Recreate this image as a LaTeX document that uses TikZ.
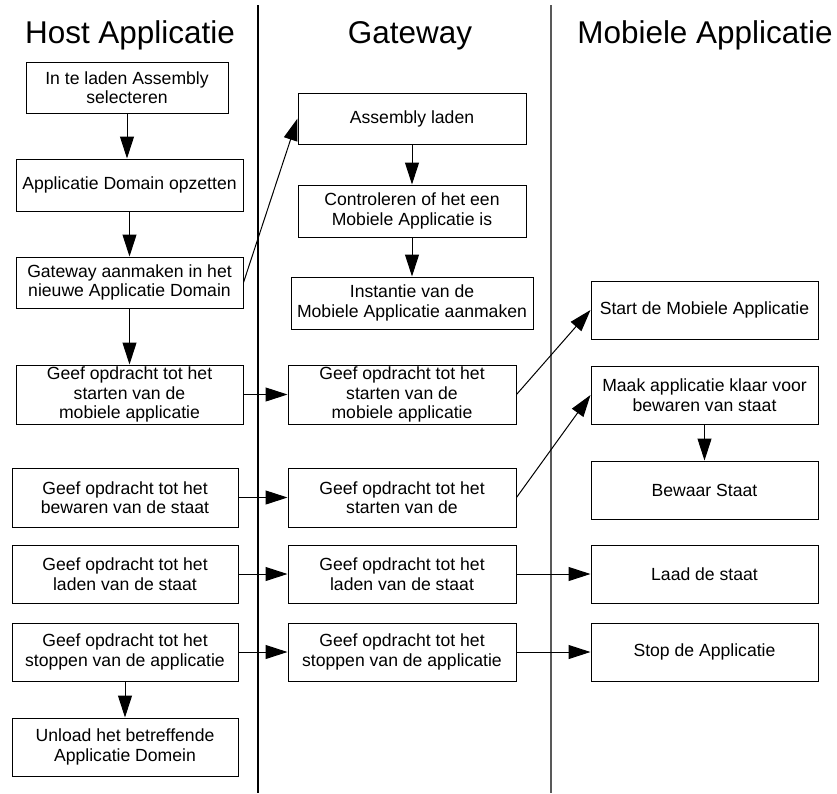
\documentclass[tikz,border=0pt]{standalone}
\usepackage{fontspec}
\setmainfont{Liberation Sans}
\usetikzlibrary{arrows.meta}

\tikzset{
  box/.style={draw=black, line width=0.75pt, inner sep=0pt, align=center,
    font=\fontsize{13.2}{14.6}\selectfont},
  sz/.style 2 args={minimum width=#1*0.75pt, minimum height=#2*0.75pt},
  flow/.style={line width=0.75pt, -{Triangle[length=16.5pt,width=10.5pt]}},
  lane/.style={line width=0.8pt},
  title/.style={anchor=base, font=\fontsize{23.6}{26}\selectfont},
}

\begin{document}
\begin{tikzpicture}[x=0.75pt,y=-0.75pt]
\useasboundingbox (0,0) rectangle (837,793);

% swimlane separators
\coordinate (l1t) at (258,5);   \coordinate (l1b) at (258,793);
\coordinate (l2t) at (551,5);   \coordinate (l2b) at (551,793);
\draw[lane, black] (l1t) -- (l1b);
\draw[lane, black!65] (l2t) -- (l2b);

% lane titles
\node[title] (tH) at (130,43) {Host Applicatie};
\node[title] (tG) at (410,43) {Gateway};
\node[title] (tM) at (705,43) {Mobiele Applicatie};

% host application
\node[box, sz={202}{51}] (A1) at (127,87.5) {In te laden Assembly\\selecteren};
\node[box, sz={227}{52}] (A2) at (129.5,185) {Applicatie Domain opzetten};
\node[box, sz={227}{51}] (A3) at (129.5,282.5) {Gateway aanmaken in het\\nieuwe Applicatie Domain};
\node[box, sz={227}{59}] (A4) at (129.5,394.5) {Geef opdracht tot het\\starten van de\\mobiele applicatie};
\node[box, sz={226}{59}] (A5) at (125,497.5) {Geef opdracht tot het\\bewaren van de staat};
\node[box, sz={226}{58}] (A6) at (125,574) {Geef opdracht tot het\\laden van de staat};
\node[box, sz={226}{58}] (A7) at (125,652) {Geef opdracht tot het\\stoppen van de applicatie};
\node[box, sz={226}{58}] (A8) at (125,747) {Unload het betreffende\\Applicatie Domein};

% gateway
\node[box, sz={228}{51}] (G1) at (412,118.5) {Assembly laden};
\node[box, sz={228}{52}] (G2) at (412,211) {Controleren of het een\\Mobiele Applicatie is};
\node[box, sz={242}{52}] (G3) at (412,303) {Instantie van de\\Mobiele Applicatie aanmaken};
\node[box, sz={228}{59}] (G4) at (402,394.5) {Geef opdracht tot het\\starten van de\\mobiele applicatie};
\node[box, sz={228}{59}] (G5) at (402,497.5) {Geef opdracht tot het\\starten van de};
\node[box, sz={228}{58}] (G6) at (402,574) {Geef opdracht tot het\\laden van de staat};
\node[box, sz={228}{58}] (G7) at (402,652) {Geef opdracht tot het\\stoppen van de applicatie};

% mobile application
\node[box, sz={227}{58}] (M1) at (704.5,310) {Start de Mobiele Applicatie};
\node[box, sz={227}{58}] (M2) at (704.5,395) {Maak applicatie klaar voor\\bewaren van staat};
\node[box, sz={227}{58}] (M3) at (704.5,490) {Bewaar Staat};
\node[box, sz={227}{58}] (M4) at (704.5,574) {Laad de staat};
\node[box, sz={227}{58}] (M5) at (704.5,652) {Stop de Applicatie};

% host flow
\draw[flow] (A1.south) -- (A1.south |- A2.north);
\draw[flow] (A2.south) -- (A2.south |- A3.north);
\draw[flow] (A3.south) -- (A3.south |- A4.north);
\draw[flow] (A7.south) -- (A7.south |- A8.north);

% gateway flow
\draw[flow] (G1.south) -- (G1.south |- G2.north);
\draw[flow] (G2.south) -- (G2.south |- G3.north);

% mobile flow
\draw[flow] (M2.south) -- (M2.south |- M3.north);

% host -> gateway
\draw[flow] (A3.east) -- (G1.west);
\draw[flow] (A4.east) -- (A4.east -| G4.west);
\draw[flow] (A5.east) -- (A5.east -| G5.west);
\draw[flow] (A6.east) -- (A6.east -| G6.west);
\draw[flow] (A7.east) -- (A7.east -| G7.west);

% gateway -> mobile
\draw[flow] (G4.east) -- (M1.west);
\draw[flow] (G5.east) -- (M2.west);
\draw[flow] (G6.east) -- (G6.east -| M4.west);
\draw[flow] (G7.east) -- (G7.east -| M5.west);
\end{tikzpicture}
\end{document}
